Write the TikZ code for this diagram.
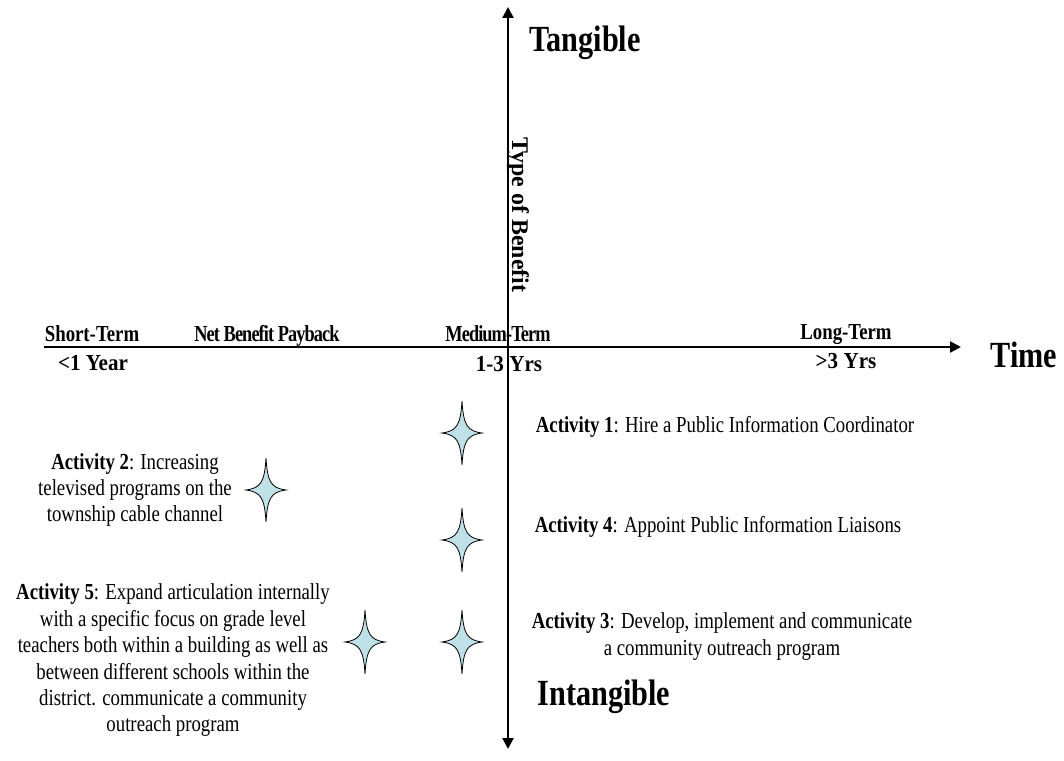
\documentclass[tikz,border=0pt]{standalone}
\usepackage{fontspec}
\setmainfont{Liberation Serif}
\newfontfamily\cond{Liberation Serif}[FakeStretch=0.82]
\newfontfamily\condn{Liberation Serif}[FakeStretch=0.8, LetterSpace=-4]
\newfontfamily\condw{Liberation Serif}[FakeStretch=0.92]
\usetikzlibrary{arrows.meta}
\definecolor{starfill}{RGB}{190,224,230}
\tikzset{
  axis/.style={line width=2.2bp, -{Triangle[length=11bp,width=11bp]}},
  biglabel/.style={font=\cond\bfseries\fontsize{37}{40}\selectfont, inner sep=0pt, anchor=base},
  termlabel/.style={font=\cond\bfseries\fontsize{23}{26}\selectfont, inner sep=0pt, anchor=base},
  termnarrow/.style={termlabel, font=\condn\bfseries\fontsize{23}{26}\selectfont},
  termwide/.style={termlabel, font=\condw\bfseries\fontsize{23}{26}\selectfont},
  acttext/.style={font=\cond\fontsize{23}{26.5}\selectfont, inner sep=0pt, align=center},
  starshape/.style={draw=black, line width=0.8bp, fill=starfill},
  star4/.pic={\path[starshape] (0,-32) .. controls (1.5,-8) and (5,-2) .. (20,0)
      .. controls (5,2) and (1.5,8) .. (0,32)
      .. controls (-1.5,8) and (-5,2) .. (-20,0)
      .. controls (-5,-2) and (-1.5,-8) .. cycle;}
}
\begin{document}
\begin{tikzpicture}[x=1bp, y=-1bp]
\useasboundingbox (0,0) rectangle (1064,761);
% axes
\coordinate (xl) at (44,347);
\coordinate (xr) at (961,347);
\coordinate (yb) at (508,749);
\coordinate (yt) at (508,7);
\coordinate (yc) at (508,347);
\draw[axis] (yc) -- (xr);
\draw[line width=2.2bp] (yc) -- (xl);
\draw[axis] (yc) -- (yt);
\draw[axis] (yc) -- (yb);
% axis labels
\node[biglabel] (tang) at (585,52) {Tangible};
\node[biglabel] (intang) at (604,705) {Intangible};
\node[biglabel] (time) at (1024,367) {Time};
\node[font=\bfseries\fontsize{24}{26}\selectfont, inner sep=0pt, rotate=-90] (tob) at (518,215) {Type of Benefit};
\node[termlabel] (st) at (92,341) {Short-Term};
\node[termnarrow] (nbp) at (267,341) {Net Benefit Payback};
\node[termnarrow] (mt) at (498,341) {Medium-Term};
\node[termlabel] (lt) at (846,339) {Long-Term};
\node[termwide] (y1) at (93,370) {\textless 1 Year};
\node[termwide] (y13) at (509,371) {1-3 Yrs};
\node[termwide] (y3) at (846,368) {\textgreater 3 Yrs};
% stars
\pic at (462,433) {star4};
\pic at (462,540) {star4};
\pic at (462,642) {star4};
\pic at (266,490) {star4};
\pic at (365,642) {star4};
% activities
\node[acttext] (a1) at (725,427) {\textbf{Activity 1}: Hire a Public Information Coordinator};
\node[acttext] (a4) at (718,527) {\textbf{Activity 4}: Appoint Public Information Liaisons};
\node[acttext] (a3) at (722,636.5) {\textbf{Activity 3}: Develop, implement and communicate\\a community outreach program};
\node[acttext] (a2) at (135,490) {\textbf{Activity 2}: Increasing\\televised programs on the\\township cable channel};
\node[acttext] (a5) at (173,660.5) {\textbf{Activity 5}: Expand articulation internally\\with a specific focus on grade level\\teachers both within a building as well as\\between different schools within the\\district. communicate a community\\outreach program};
\end{tikzpicture}
\end{document}
